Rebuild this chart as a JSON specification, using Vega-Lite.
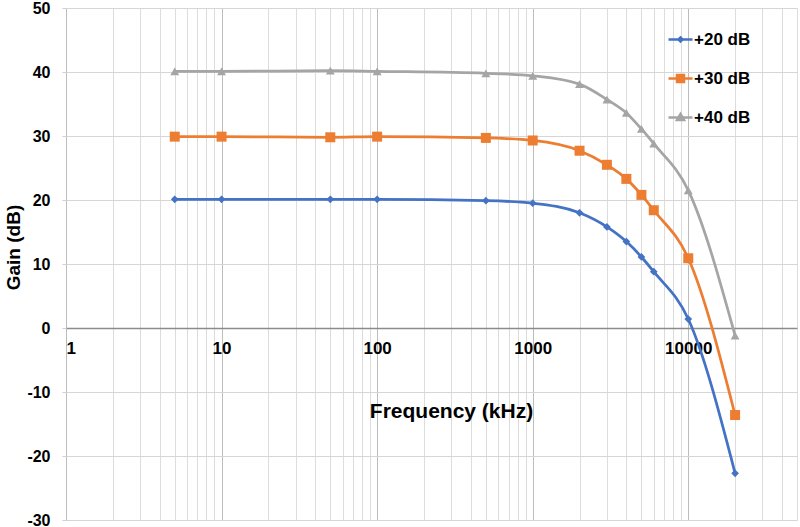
{
  "$schema": "https://vega.github.io/schema/vega-lite/v6.json",
  "width": 731,
  "height": 512,
  "autosize": "none",
  "padding": {"left": 66, "top": 8, "right": 3, "bottom": 7},
  "background": "white",
  "config": {
    "view": {"stroke": null},
    "font": "Liberation Sans",
    "axis": {"labelFont": "Liberation Sans", "titleFont": "Liberation Sans", "labelFontWeight": "bold", "titleFontWeight": "bold", "labelColor": "#000000", "titleColor": "#000000"},
    "legend": {"symbolStrokeWidth": 2.5}
  },
  "data": {
    "values": [
      {"freq": 5, "gain": 20.1, "series": "+20 dB"},
      {"freq": 10, "gain": 20.1, "series": "+20 dB"},
      {"freq": 50, "gain": 20.1, "series": "+20 dB"},
      {"freq": 100, "gain": 20.1, "series": "+20 dB"},
      {"freq": 500, "gain": 19.9, "series": "+20 dB"},
      {"freq": 1000, "gain": 19.5, "series": "+20 dB"},
      {"freq": 2000, "gain": 18.0, "series": "+20 dB"},
      {"freq": 3000, "gain": 15.8, "series": "+20 dB"},
      {"freq": 4000, "gain": 13.5, "series": "+20 dB"},
      {"freq": 5000, "gain": 11.1, "series": "+20 dB"},
      {"freq": 6000, "gain": 8.8, "series": "+20 dB"},
      {"freq": 10000, "gain": 1.4, "series": "+20 dB"},
      {"freq": 20000, "gain": -22.7, "series": "+20 dB"},
      {"freq": 5, "gain": 29.9, "series": "+30 dB"},
      {"freq": 10, "gain": 29.9, "series": "+30 dB"},
      {"freq": 50, "gain": 29.8, "series": "+30 dB"},
      {"freq": 100, "gain": 29.9, "series": "+30 dB"},
      {"freq": 500, "gain": 29.7, "series": "+30 dB"},
      {"freq": 1000, "gain": 29.3, "series": "+30 dB"},
      {"freq": 2000, "gain": 27.7, "series": "+30 dB"},
      {"freq": 3000, "gain": 25.5, "series": "+30 dB"},
      {"freq": 4000, "gain": 23.3, "series": "+30 dB"},
      {"freq": 5000, "gain": 20.8, "series": "+30 dB"},
      {"freq": 6000, "gain": 18.4, "series": "+30 dB"},
      {"freq": 10000, "gain": 10.9, "series": "+30 dB"},
      {"freq": 20000, "gain": -13.6, "series": "+30 dB"},
      {"freq": 5, "gain": 40.1, "series": "+40 dB"},
      {"freq": 10, "gain": 40.1, "series": "+40 dB"},
      {"freq": 50, "gain": 40.2, "series": "+40 dB"},
      {"freq": 100, "gain": 40.1, "series": "+40 dB"},
      {"freq": 500, "gain": 39.8, "series": "+40 dB"},
      {"freq": 1000, "gain": 39.4, "series": "+40 dB"},
      {"freq": 2000, "gain": 38.1, "series": "+40 dB"},
      {"freq": 3000, "gain": 35.7, "series": "+40 dB"},
      {"freq": 4000, "gain": 33.6, "series": "+40 dB"},
      {"freq": 5000, "gain": 31.1, "series": "+40 dB"},
      {"freq": 6000, "gain": 28.8, "series": "+40 dB"},
      {"freq": 10000, "gain": 21.5, "series": "+40 dB"},
      {"freq": 20000, "gain": -1.2, "series": "+40 dB"}
    ]
  },
  "encoding": {
    "x": {"field": "freq", "type": "quantitative", "scale": {"type": "log", "domain": [1, 50000], "nice": false}, "axis": null},
    "y": {"field": "gain", "type": "quantitative", "scale": {"domain": [-30, 50], "nice": false}},
    "color": {
      "field": "series", "type": "nominal",
      "scale": {"domain": ["+20 dB", "+30 dB", "+40 dB"], "range": ["#4472C4", "#ED7D31", "#A5A5A5"]},
      "legend": {
        "title": null, "orient": "none", "legendX": 606, "legendY": 23,
        "labelFontSize": 17, "labelFontWeight": "bold", "labelFont": "Liberation Sans", "labelColor": "#000000",
        "symbolSize": 100, "symbolOpacity": 1, "symbolStrokeWidth": 2.5, "labelOffset": 5, "rowPadding": 21, "padding": 0
      }
    }
  },
  "layer": [
    {
      "mark": {"type": "line", "interpolate": "monotone", "strokeWidth": 2.75},
      "encoding": {
        "x": {
          "field": "freq", "type": "quantitative",
          "axis": {
            "orient": "top", "title": null, "labels": false, "ticks": false, "domain": false,
            "values": [1,2,3,4,5,6,7,8,9,10,20,30,40,50,60,70,80,90,100,200,300,400,500,600,700,800,900,1000,2000,3000,4000,5000,6000,7000,8000,9000,10000,20000,30000,40000,50000],
            "grid": true,
            "gridColor": {"condition": {"test": "indexof([1,10,100,1000,10000], datum.value) >= 0", "value": "#bdbdbd"}, "value": "#dcdcdc"},
            "gridWidth": 1
          }
        },
        "y": {
          "field": "gain", "type": "quantitative",
          "axis": {
            "title": "Gain (dB)", "titleFontSize": 19, "titlePadding": 3, "titleY": 239,
            "values": [-30,-20,-10,0,10,20,30,40,50],
            "labelExpr": "replace(datum.label, '\u2212', '-')",
            "labelFontSize": 16, "labelPadding": 12, "tickSize": 4, "tickColor": "#d0d0d0",
            "domain": false, "grid": true, "gridColor": "#d6d6d6"
          }
        }
      }
    },
    {
      "transform": [{"filter": "datum.series === '+20 dB'"}],
      "mark": {"type": "point", "filled": true, "opacity": 1, "shape": "diamond", "size": 60},
      "encoding": {
        "x": {
          "field": "freq", "type": "quantitative",
          "axis": {
            "orient": "bottom", "offset": -192, "title": "Frequency (kHz)", "titleFontSize": 21, "titlePadding": 44, "titleX": 385,
            "values": [1, 10, 100, 1000, 10000], "format": "d",
            "labelFontSize": 17, "labelPadding": 12, "ticks": false, "grid": false,
            "domain": true, "domainColor": "#8c8c8c", "domainWidth": 1.5
          }
        }
      }
    },
    {
      "transform": [{"filter": "datum.series === '+30 dB'"}],
      "mark": {"type": "point", "filled": true, "opacity": 1, "shape": "square", "size": 100}
    },
    {
      "transform": [{"filter": "datum.series === '+40 dB'"}],
      "mark": {"type": "point", "filled": true, "opacity": 1, "shape": "triangle-up", "size": 80}
    },
    {
      "transform": [{"filter": "false"}],
      "mark": {"type": "point", "filled": true, "size": 100},
      "encoding": {
        "shape": {
          "field": "series", "type": "nominal",
          "scale": {
            "domain": ["+20 dB", "+30 dB", "+40 dB"],
            "range": [
              "M-2.4,0L2.4,0M0,-0.4L0.4,0L0,0.4L-0.4,0Z",
              "M-2.4,0L2.4,0M-0.7,-0.7L0.7,-0.7L0.7,0.7L-0.7,0.7Z",
              "M-2.4,0L2.4,0M0,-0.7L0.7,0.5L-0.7,0.5Z"
            ]
          },
          "legend": {
            "title": null, "orient": "none", "legendX": 606, "legendY": 23,
            "labelFontSize": 17, "labelFontWeight": "bold", "labelFont": "Liberation Sans", "labelColor": "#000000",
            "symbolSize": 100, "symbolOpacity": 1, "symbolStrokeWidth": 2.5, "labelOffset": 5, "rowPadding": 21, "padding": 0
          }
        }
      }
    }
  ]
}
